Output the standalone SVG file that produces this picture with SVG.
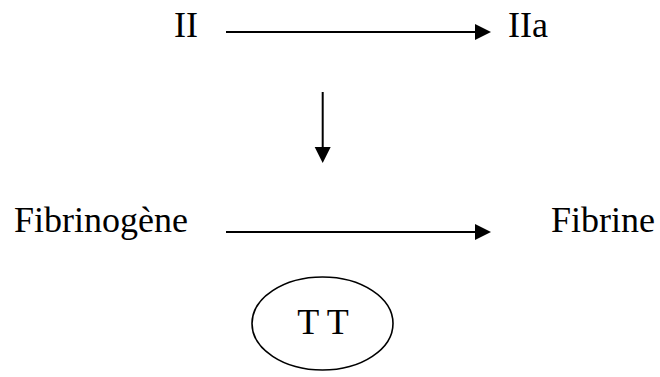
<svg xmlns="http://www.w3.org/2000/svg" width="660" height="377" viewBox="0 0 660 377">
<style>
text{font-family:"Liberation Serif","Times New Roman",serif;font-size:36px;fill:#000}
.c{stroke:#000;stroke-width:2;fill:none}
.e{stroke:#000;stroke-width:1.6;fill:none}
.h{fill:#000;stroke:none}
</style>
<rect width="660" height="377" fill="#fff"/>
<g id="node-II"><text x="174" y="37">II</text></g>
<g id="node-IIa"><text x="508" y="37">IIa</text></g>
<g id="node-Fibrinogene"><text x="14" y="232">Fibrinogène</text></g>
<g id="node-Fibrine"><text x="551" y="232">Fibrine</text></g>
<g id="node-TT"><ellipse class="e" cx="322.5" cy="323.5" rx="70.5" ry="46.5"/><text x="323" y="334" text-anchor="middle">T T</text></g>
<g id="connectors">
<line class="c" x1="226" y1="32" x2="477" y2="32"/>
<polygon class="h" points="475,24 491,32 475,40"/>
<line class="c" x1="322.7" y1="92" x2="322.7" y2="150"/>
<polygon class="h" points="314.7,147 330.7,147 322.7,163"/>
<line class="c" x1="226" y1="232" x2="477" y2="232"/>
<polygon class="h" points="475,224 491,232 475,240"/>
</g>
</svg>
